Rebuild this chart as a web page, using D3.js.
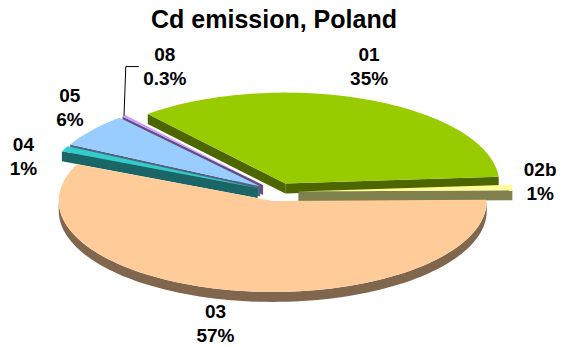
<!DOCTYPE html>
<html>
<head>
<meta charset="utf-8">
<script src="https://cdn.jsdelivr.net/npm/d3@7"></script>
<style>
  body { margin: 0; background: #fff; }
  text { font-family: "Liberation Sans", Arial, sans-serif; font-weight: bold; fill: #000; }
</style>
</head>
<body>
<script>
// data
const categories = ["01", "02b", "03", "04", "05", "08"];
const shares = [35, 1, 57, 1, 6, 0.3];
const shareLabels = ["35%", "1%", "57%", "1%", "6%", "0.3%"];
const topColors = ["#99cc00", "#ffff99", "#ffcc99", "#33cccc", "#99ccff", "#cc99ff"];
const title = "Cd emission, Poland";

const width = 563,
    height = 347;

// pie geometry (3d-ish, tilted ellipse)
const cx = 277, cy = 192, rx = 214, ry = 91, depth = 10, explode = 0.1;
const startDeg = -40;
const DEG2RAD = Math.PI / 180;

// label tweaks where excel shuffled them around
const labelNudge = {"01": [-10, 0], "02b": [0, -4.5], "03": [-9, -2], "04": [-16, 23], "05": [0, 0], "08": [59, -22]};

var svg = d3.select("body").append("svg")
    .attr("width", width)
    .attr("height", height);

svg.append("text")
    .attr("x", 274)
    .attr("y", 28)
    .attr("text-anchor", "middle")
    .style("font-size", "25px")
    .text(title);

var pie = d3.pie()
    .sort(null)
    .startAngle(startDeg * DEG2RAD)
    .endAngle(startDeg * DEG2RAD + 2 * Math.PI);

var slices = pie(shares).map((d, i) => {
    var mid = (d.startAngle + d.endAngle) / 2;
    return {
        key: categories[i],
        label: shareLabels[i],
        top: topColors[i],
        side: d3.rgb(topColors[i]).darker(1.94).formatHex(),
        a0: d.startAngle,
        a1: d.endAngle,
        mid: mid,
        ox: cx + explode * rx * Math.sin(mid),
        oy: cy - explode * ry * Math.cos(mid)
    };
});

function pt(s, a, r, dy) {
    return [s.ox + r * rx * Math.sin(a), s.oy - r * ry * Math.cos(a) + (dy || 0)];
}

function arcPts(s, a0, a1, dy) {
    var n = Math.max(2, Math.ceil((a1 - a0) / (DEG2RAD * 2)));
    return d3.range(n + 1).map(k => pt(s, a0 + (a1 - a0) * k / n, 1, dy));
}

var line = d3.line();

// back to front
var order = slices.slice().sort((a, b) => a.oy - b.oy);

var g = svg.append("g");

order.forEach(s => {
    var sg = g.append("g").attr("class", "slice-" + s.key);

    // outer wall, front half only
    var f0 = Math.max(s.a0, Math.PI / 2), f1 = Math.min(s.a1, 3 * Math.PI / 2);
    if (f1 > f0) {
        var up = arcPts(s, f0, f1, 0), down = arcPts(s, f0, f1, depth).reverse();
        sg.append("path")
            .attr("d", line(up.concat(down)) + "Z")
            .attr("fill", s.side);
    }

    // radial walls facing us
    [[s.a0, Math.sin(s.a0) < 0], [s.a1, Math.sin(s.a1) > 0]].forEach(([a, vis]) => {
        if (!vis) return;
        var e = pt(s, a, 1), e2 = pt(s, a, 1, depth);
        sg.append("path")
            .attr("d", line([[s.ox, s.oy], e, e2, [s.ox, s.oy + depth]]) + "Z")
            .attr("fill", s.side);
    });

    // top face
    sg.append("path")
        .attr("d", line([[s.ox, s.oy]].concat(arcPts(s, s.a0, s.a1, 0))) + "Z")
        .attr("fill", s.top);
});

// labels
slices.forEach(s => {
    var nd = labelNudge[s.key] || [0, 0];
    var lx = s.ox + (rx + 28) * Math.sin(s.mid) + nd[0],
        ly = s.oy - (ry + 36) * Math.cos(s.mid) + nd[1];
    var t = svg.append("text")
        .attr("text-anchor", "middle")
        .style("font-size", "19px");
    t.append("tspan").attr("x", lx).attr("y", ly - 5.5).text(s.key);
    t.append("tspan").attr("x", lx).attr("y", ly + 18.5).text(s.label);

    if (s.key === "08") {
        var e = pt(s, s.mid, 1);
        svg.append("path")
            .attr("d", line([e, [lx - 39, ly], [lx - 26, ly]]))
            .attr("fill", "none")
            .attr("stroke", "#000")
            .attr("stroke-width", 1);
    }
});
</script>
</body>
</html>
